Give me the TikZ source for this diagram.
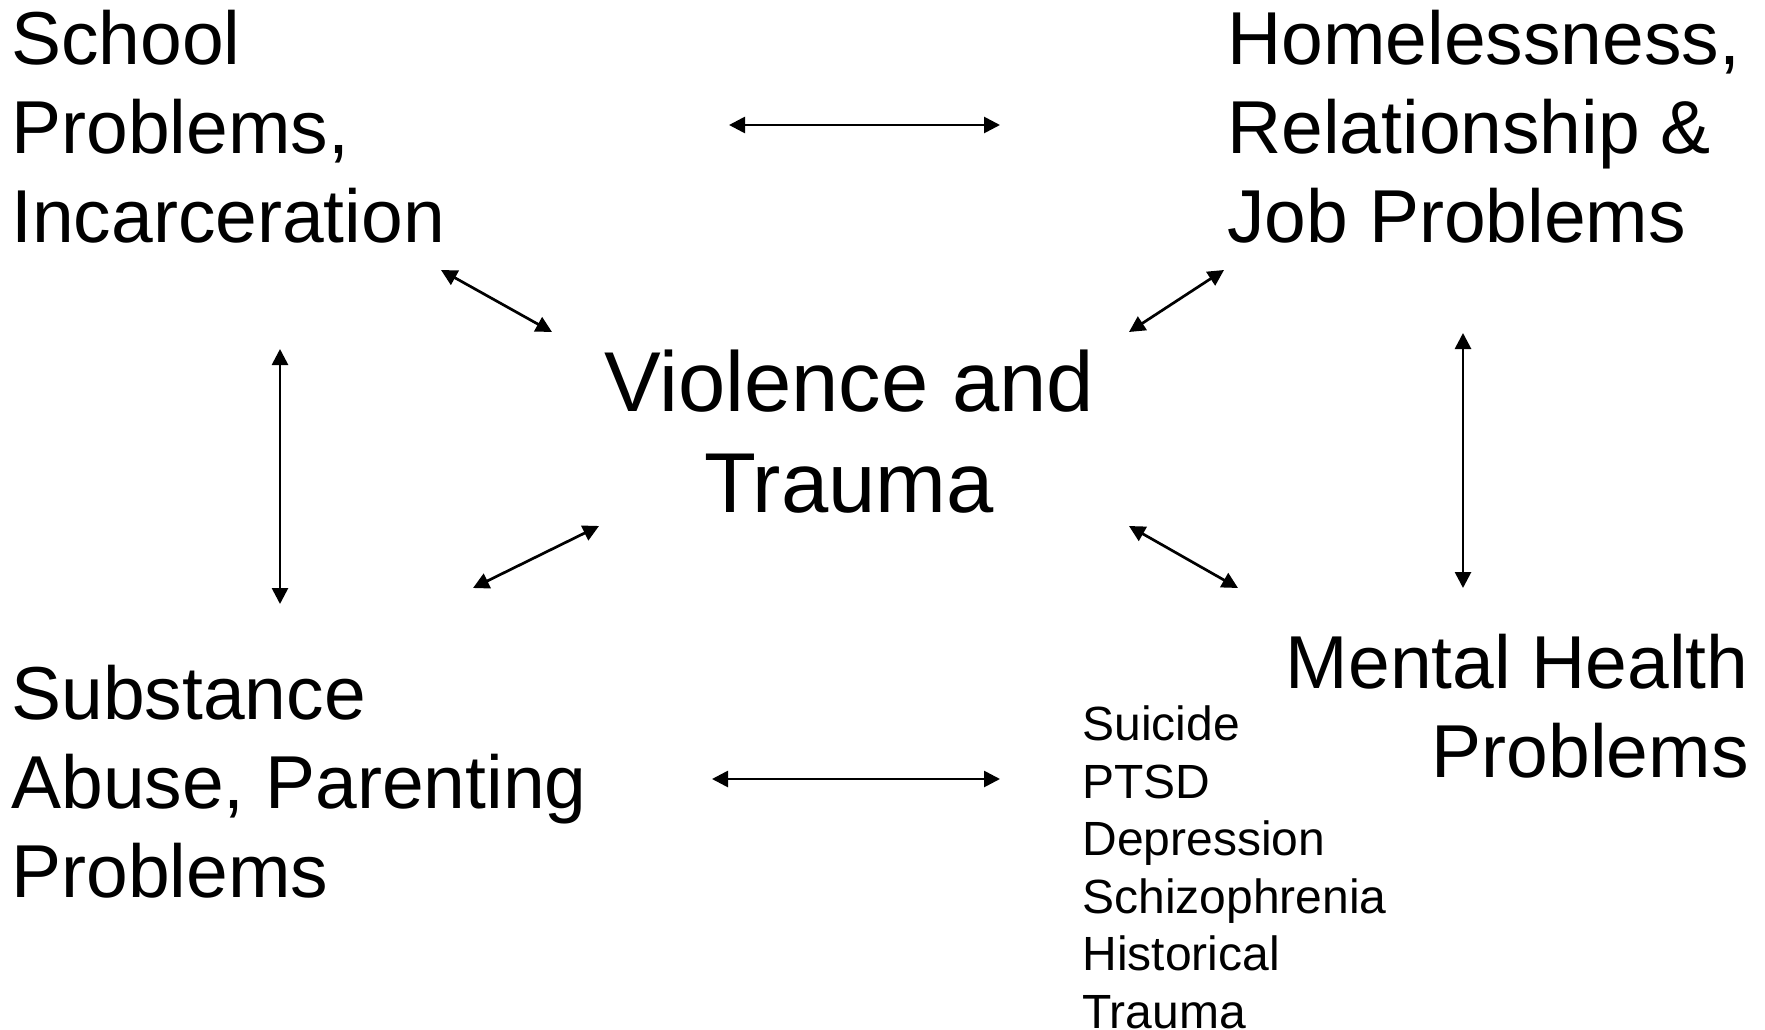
\documentclass[tikz,border=0pt]{standalone}
\usepackage{fontspec}
\setmainfont{Liberation Sans}
\usetikzlibrary{arrows.meta}

\begin{document}
\begin{tikzpicture}[x=1pt, y=-1pt, line width=2.7pt,
    >={Triangle[length=16pt, width=16pt]},
    big/.style={inner sep=0pt, font=\fontsize{75}{89}\selectfont},
    small/.style={inner sep=0pt, font=\fontsize{48}{57.5}\selectfont}]
  \useasboundingbox (0, 0) rectangle (1765, 1030);

  % blocks of text (anchored on the last baseline)
  \node[big, anchor=base west, align=left] (school) at (10, 242)
    {School\\Problems,\\Incarceration};
  \node[big, anchor=base west, align=left] (home) at (1226, 242)
    {Homelessness,\\Relationship \&\\Job Problems};
  \node[inner sep=0pt, font=\fontsize{85}{101}\selectfont, anchor=base,
    align=center] (trauma) at (849, 512) {Violence and\\Trauma};
  \node[big, anchor=base west, align=left] (subst) at (10, 897)
    {Substance\\Abuse, Parenting\\Problems};
  \node[big, anchor=base east, align=right] (mental) at (1750, 777)
    {Mental Health\\Problems};
  \node[small, anchor=base west, align=left] (list) at (1081, 1028)
    {Suicide\\PTSD\\Depression\\Schizophrenia\\Historical\\Trauma};

  % arrow ends
  \coordinate (a1) at (729, 125);  \coordinate (b1) at (1000, 125);
  \coordinate (a2) at (441, 270);  \coordinate (b2) at (552, 332);
  \coordinate (a3) at (1224, 270); \coordinate (b3) at (1129, 332);
  \coordinate (a4) at (280, 349);  \coordinate (b4) at (280, 604);
  \coordinate (a5) at (1463, 333); \coordinate (b5) at (1463, 588);
  \coordinate (a6) at (599, 526);  \coordinate (b6) at (473, 588);
  \coordinate (a7) at (1129, 526); \coordinate (b7) at (1238, 588);
  \coordinate (a8) at (712, 779);  \coordinate (b8) at (1000, 779);

  \foreach \i in {1,...,8}
    \draw[<->] (a\i) -- (b\i);
\end{tikzpicture}
\end{document}
